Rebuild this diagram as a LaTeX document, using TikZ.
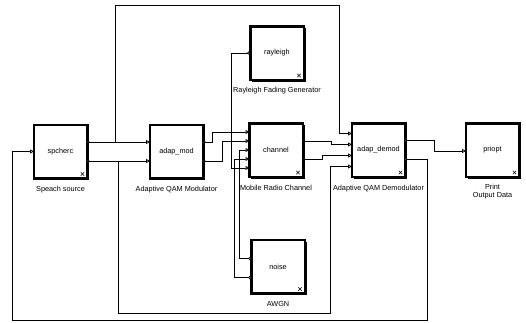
\documentclass[tikz,border=0pt]{standalone}
\usepackage{fontspec}
\setsansfont{Liberation Sans}
\usetikzlibrary{arrows.meta,positioning,calc,shadows}

\begin{document}
\begin{tikzpicture}[
    x=1pt, y=-1pt,
    font=\sffamily\fontsize{7.3}{8.5}\selectfont,
    block/.style={draw, fill=white, line width=2.5pt, minimum width=53.5pt, minimum height=53.5pt, inner sep=0pt,
        drop shadow={shadow xshift=2pt, shadow yshift=-2pt, fill=black, opacity=1}},
    xmark/.style={path picture={\draw[line width=0.6pt]
        ([shift={(-6.5pt,2.5pt)}]path picture bounding box.south east) -- ++(3.5pt,3.5pt)
        ([shift={(-3pt,2.5pt)}]path picture bounding box.south east) -- ++(-3.5pt,3.5pt);}},
    caption/.style={inner sep=1pt, align=center},
    wire/.style={line width=0.75pt},
    feed/.style={wire, -{Triangle[fill=white, length=4pt, width=4pt]}},
    link/.style={wire, {Triangle[fill=white, reversed, length=3.5pt, width=3.5pt]}-{Triangle[fill=white, length=4pt, width=4pt]}},
    gen/.style={wire, {Circle[fill=white, length=3.2pt]}-{Triangle[fill=white, length=4pt, width=4pt]}}
]
    \useasboundingbox (0,0) rectangle (526,322);

    % blocks
    \node[block, xmark] (spch)  at (60.5,151.5) {spcherc};
    \node[block]        (adap)  at (176.5,151.5) {adap\_mod};
    \node[block, xmark] (rayl)  at (277,53)     {rayleigh};
    \node[block, xmark] (chan)  at (276,150)    {channel};
    \node[block, xmark] (demod) at (378.5,150)  {adap\_demod};
    \node[block, xmark] (prio)  at (492.5,150)  {priopt};
    \node[block, xmark] (noise) at (278,266.5)  {noise};

    \node[caption, below=6pt of spch]  (spch-cap)  {Speach source};
    \node[caption, below=6pt of adap]  (adap-cap)  {Adaptive QAM Modulator};
    \node[caption, below=5pt of rayl]  (rayl-cap)  {Rayleigh Fading Generator};
    \node[caption, below=6pt of chan]  (chan-cap)  {Mobile Radio Channel};
    \node[caption, below=6pt of demod] (demod-cap) {Adaptive QAM Demodulator};
    \node[caption, below=5pt of prio]  (prio-cap)  {Print\\Output Data};
    \node[caption, below=6pt of noise] (noise-cap) {AWGN};

    % ports
    \coordinate (spch-i)   at ($(spch.west)+(1.5,0)$);
    \coordinate (spch-o1)  at ($(spch.east)+(-2,-9.5)$);
    \coordinate (spch-o2)  at ($(spch.east)+(-2,9.5)$);
    \coordinate (adap-i1)  at ($(adap.west)+(1.5,-9.5)$);
    \coordinate (adap-i2)  at ($(adap.west)+(1.5,9.5)$);
    \coordinate (adap-o1)  at ($(adap.east)+(-2,-9.5)$);
    \coordinate (adap-o2)  at ($(adap.east)+(-2,9.5)$);
    \coordinate (rayl-p)   at ($(rayl.west)+(1.5,0)$);
    \coordinate (chan-i1)  at ($(chan.west)+(1.5,-18)$);
    \coordinate (chan-i2)  at ($(chan.west)+(1.5,-9)$);
    \coordinate (chan-i3)  at ($(chan.west)+(1.5,0)$);
    \coordinate (chan-i4)  at ($(chan.west)+(1.5,9)$);
    \coordinate (chan-i5)  at ($(chan.west)+(1.5,18)$);
    \coordinate (chan-o1)  at ($(chan.east)+(-2,-9)$);
    \coordinate (chan-o2)  at ($(chan.east)+(-2,9)$);
    \coordinate (demod-i1) at ($(demod.west)+(1.5,-16.5)$);
    \coordinate (demod-i2) at ($(demod.west)+(1.5,-5.5)$);
    \coordinate (demod-i3) at ($(demod.west)+(1.5,5.5)$);
    \coordinate (demod-i4) at ($(demod.west)+(1.5,16.5)$);
    \coordinate (demod-o1) at ($(demod.east)+(-2,-9.5)$);
    \coordinate (demod-o2) at ($(demod.east)+(-2,9.5)$);
    \coordinate (prio-i)   at ($(prio.west)+(1.5,1)$);
    \coordinate (noise-p1) at ($(noise.west)+(1.5,-8)$);
    \coordinate (noise-p2) at ($(noise.west)+(1.5,11)$);
    \coordinate (fork-a)   at ($(spch-o1)+(28.5,0)$);
    \coordinate (fork-b)   at ($(spch-o2)+(31.5,0)$);

    % signals
    \draw[link] (spch-o1) -- (adap-i1);
    \draw[link] (spch-o2) -- (adap-i2);
    \draw[feed] (fork-a) |- (339,5) |- (demod-i1);
    \draw[feed] (fork-b) |- (330,313) |- (demod-i4);
    \draw[link] (adap-o1) -- ++(9.5,0) |- (chan-i1);
    \draw[link] (adap-o2) -- ++(19.5,0) |- (chan-i2);
    \draw[gen] (rayl-p) -- ++(-19.5,0) |- (chan-i5);
    \draw[gen] (noise-p1) -- ++(-12,0) |- (chan-i3);
    \draw[gen] (noise-p2) -- ++(-17,0) |- (chan-i4);
    \draw[link] (chan-o1) -- ++(29,0) |- (demod-i2);
    \draw[link] (chan-o2) -- ++(20,0) |- (demod-i3);
    \draw[link] (demod-o1) -- ++(30,0) |- (prio-i);
    \draw[link] (demod-o2) -- ++(23,0) |- (12,320) |- (spch-i);

\end{tikzpicture}
\end{document}
